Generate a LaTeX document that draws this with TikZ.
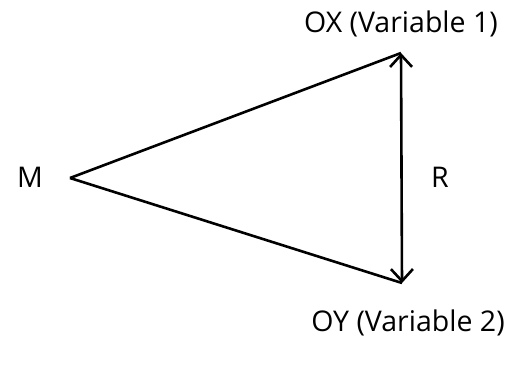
\documentclass[tikz,border=0pt]{standalone}
\usepackage{fontspec}
\setmainfont{Open Sans}
\usetikzlibrary{arrows.meta}
\begin{document}
\begin{tikzpicture}[x=1pt,y=-1pt,
  lbl/.style={font=\fontsize{28.5}{32}\selectfont, inner sep=0pt},
  edge/.style={line width=2.6pt, black},
  twoway/.style={line width=2.6pt, black, {Straight Barb[length=12pt,width=22pt]}-{Straight Barb[length=12pt,width=22pt]}}]
\useasboundingbox (0,0) rectangle (506,365);
\coordinate (apex) at (70,178);
\coordinate (top) at (401,53);
\coordinate (bot) at (402,283);
\node[lbl] (m) at (30,177) {M};
\node[lbl] (r) at (440,177) {R};
\node[lbl] (ox) at (401,24) {OX (Variable 1)};
\node[lbl] (oy) at (408,323) {OY (Variable 2)};
\draw[edge] (apex) -- (top);
\draw[edge] (apex) -- (bot);
\draw[twoway] (top) -- (bot);
\end{tikzpicture}
\end{document}
